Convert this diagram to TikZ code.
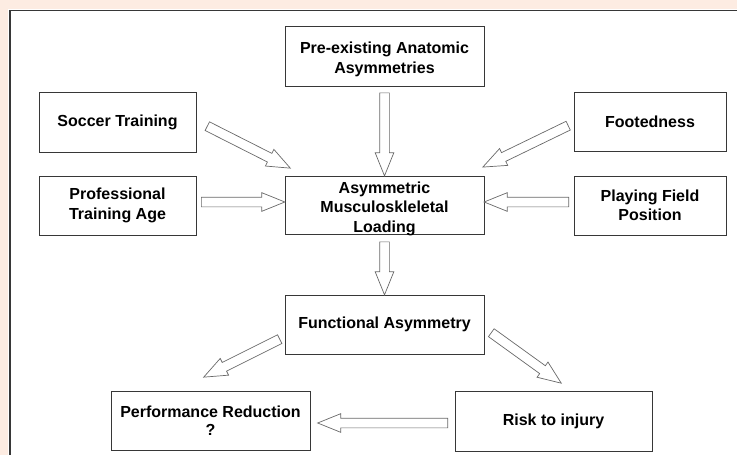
\documentclass[tikz,border=0pt]{standalone}
\usepackage{fontspec}
\setmainfont{Liberation Sans}
\usetikzlibrary{shapes.arrows,calc}

\definecolor{peach}{RGB}{253,236,226}
\definecolor{boxline}{RGB}{55,55,55}
\definecolor{arrline}{RGB}{105,105,105}

\tikzset{
  labeltext/.style={align=center, font=\bfseries\fontsize{16}{19.5}\selectfont},
  factor/.style={draw=boxline, line width=1pt, inner sep=2pt, labeltext},
  blockarr/.style={single arrow, draw=arrline, fill=white, line width=.7pt,
    inner sep=0pt, inner ysep=4.5pt, single arrow head extend=4.5pt,
    single arrow tip angle=44, anchor=tail}
}

% hollow block arrow from #1 to #2
\newcommand{\blockarrow}[2]{%
  \path let \p1=($(#2)-(#1)$), \n1={veclen(\x1,\y1)}, \n2={atan2(\y1,\x1)} in
    (#1) node[blockarr, rotate=\n2, minimum height=\n1]{};}

\begin{document}
\begin{tikzpicture}[x=1pt,y=-1pt]
  \useasboundingbox (0,0) rectangle (737,455);
  \fill[peach] (0,0) rectangle (737,9);
  \fill[peach] (0,0) rectangle (8,455);
  \draw[boxline, line width=1.5pt] (737,10.5) -- (10,10.5) -- (10,455);

  \node[factor, minimum width=199pt, minimum height=60pt] (pre) at (384.5,56) {\rule{0pt}{18pt}Pre-existing Anatomic\\Asymmetries};
  \node[factor, minimum width=157pt, minimum height=60pt] (soccer) at (117.5,122) {Soccer Training};
  \node[factor, minimum width=152pt, minimum height=59pt] (foot) at (650,121.5) {Footedness};
  \node[factor, minimum width=157pt, minimum height=59pt] (age) at (117.5,205.5) {Professional\\Training Age};
  \node[factor, minimum width=152pt, minimum height=59pt] (field) at (650,205.5) {Playing Field\\Position};
  \node[factor, minimum width=199pt, minimum height=58pt,
    label={[labeltext, yshift=-3.5pt]center:Asymmetric\\Musculoskleletal\\Loading}] (load) at (384.5,205) {};
  \node[factor, minimum width=199pt, minimum height=59pt] (func) at (384.5,324.5) {Functional Asymmetry};
  \node[factor, minimum width=199pt, minimum height=59pt, font=\bfseries\fontsize{16}{17.5}\selectfont] (perf) at (210.5,420.5) {Performance Reduction\\?};
  \node[factor, minimum width=197pt, minimum height=60pt] (risk) at (553.5,421) {Risk to injury};

  % arrow ends
  \coordinate (pre-t) at ($(pre.south)+(0,6)$);
  \coordinate (pre-h) at (load.north);
  \coordinate (load-t) at ($(load.south)+(0,7)$);
  \coordinate (load-h) at (func.north);
  \coordinate (soccer-t) at (207,126);
  \coordinate (soccer-h) at (290,168);
  \coordinate (age-t) at (201,202);
  \coordinate (age-h) at (load.west |- 0,202);
  \coordinate (foot-t) at (568.5,125.5);
  \coordinate (foot-h) at (483,167);
  \coordinate (field-t) at (569,202);
  \coordinate (field-h) at (load.east |- 0,202);
  \coordinate (func-t) at (280,339);
  \coordinate (func-h) at (204,377);
  \coordinate (fr-t) at (491,332.5);
  \coordinate (fr-h) at (561,383);
  \coordinate (risk-t) at (448,423);
  \coordinate (risk-h) at (318,423);

  \foreach \a in {pre,load,soccer,age,foot,field,func,fr,risk}
    \blockarrow{\a-t}{\a-h};
\end{tikzpicture}
\end{document}
